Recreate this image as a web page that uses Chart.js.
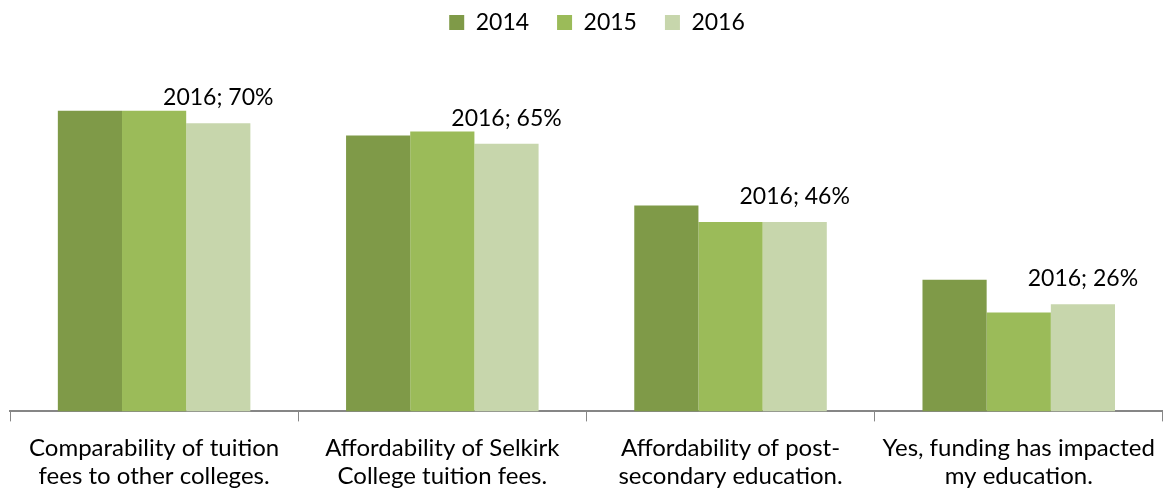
<!DOCTYPE html>
<html>
<head>
<meta charset="utf-8">
<script src="https://cdn.jsdelivr.net/npm/chart.js@4/dist/chart.umd.min.js"></script>
<style>
  html, body { margin: 0; padding: 0; background: #fff; }
  #wrap { width: 1167px; height: 493px; }
</style>
</head>
<body>
<div id="wrap"><canvas id="monChart"></canvas></div>
<script>
// Données
const categories = [
    ['Comparability of tuition', 'fees to other colleges.'],
    ['Affordability of Selkirk', 'College tuition fees.'],
    ['Affordability of post-', 'secondary education.'],
    ['Yes, funding has impacted', 'my education.']
];
const annees = ['2014', '2015', '2016'];
const valeurs2014 = [73, 67, 50, 32];
const valeurs2015 = [73, 68, 46, 24];
const valeurs2016 = [70, 65, 46, 26];
const couleurs = ['#7f9a48', '#9bbb59', '#c7d6ac'];

const police = "Lato, 'Liberation Sans', sans-serif";

// Étiquettes "2016; 70%" au-dessus des barres de 2016 seulement
const etiquettes = {
    id: 'etiquettes',
    afterDatasetsDraw(chart) {
        const ctx = chart.ctx;
        const meta = chart.getDatasetMeta(2);
        ctx.save();
        ctx.font = '23px ' + police;
        ctx.fillStyle = '#000';
        ctx.textAlign = 'center';
        ctx.textBaseline = 'alphabetic';
        meta.data.forEach(function(bar, i) {
            ctx.fillText(annees[2] + '; ' + valeurs2016[i] + '%', bar.x, bar.y - 18);
        });
        ctx.restore();
    }
};

// Plus d'espace sous la légende, et légende un peu décalée à droite
const espaceLegende = {
    id: 'espaceLegende',
    beforeInit(chart) {
        const fitOrig = chart.legend.fit;
        chart.legend.fit = function() {
            fitOrig.bind(chart.legend)();
            this.height += 38;
        };
    },
    beforeDraw(chart) {
        chart.legend.left += 9;
        chart.legend.right += 9;
    },
    afterDraw(chart) {
        chart.legend.left -= 9;
        chart.legend.right -= 9;
    }
};

document.addEventListener('DOMContentLoaded', function() {
    const ctx = document.getElementById('monChart').getContext('2d');

    new Chart(ctx, {
        type: 'bar',
        data: {
            labels: categories,
            datasets: [
                { label: annees[0], data: valeurs2014, backgroundColor: couleurs[0] },
                { label: annees[1], data: valeurs2015, backgroundColor: couleurs[1] },
                { label: annees[2], data: valeurs2016, backgroundColor: couleurs[2] }
            ]
        },
        options: {
            responsive: true,
            maintainAspectRatio: false,
            animation: false,
            datasets: {
                bar: { categoryPercentage: 0.668, barPercentage: 1.0 }
            },
            layout: { padding: { left: 10, right: 1, top: -17, bottom: -10 } },
            scales: {
                x: {
                    grid: {
                        display: true,
                        drawOnChartArea: false,
                        tickLength: 10,
                        color: '#868686',
                        offset: true
                    },
                    border: { color: '#868686', width: 2 },
                    ticks: {
                        color: '#000',
                        padding: 12,
                        maxRotation: 0,
                        font: { size: 24, family: police, lineHeight: 1.2 }
                    }
                },
                y: {
                    display: false,
                    min: 0,
                    max: 80
                }
            },
            plugins: {
                legend: {
                    position: 'top',
                    labels: {
                        boxWidth: 15,
                        boxHeight: 15,
                        color: '#000',
                        padding: 28,
                        font: { size: 23, family: police }
                    }
                },
                tooltip: { enabled: true }
            }
        },
        plugins: [etiquettes, espaceLegende]
    });
});
</script>
</body>
</html>
